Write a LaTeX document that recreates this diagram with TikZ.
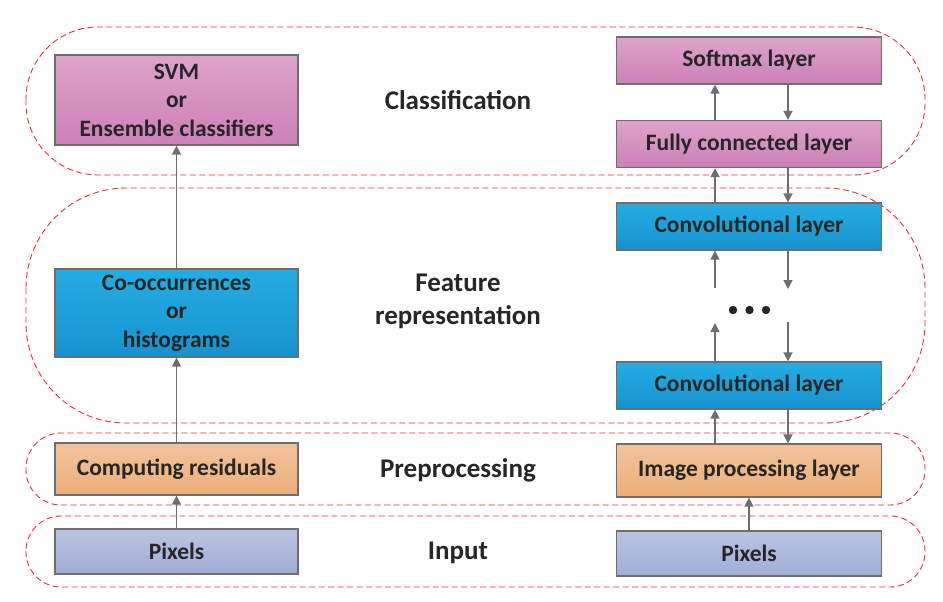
\documentclass[tikz,border=0pt]{standalone}
\usepackage{fontspec}
\setmainfont{Carlito}
\usetikzlibrary{arrows.meta}
\definecolor{txt}{HTML}{262626}
\definecolor{edge}{HTML}{6E6E6E}
\definecolor{regred}{HTML}{E62D33}
\definecolor{pinkT}{HTML}{DEA3CB}
\definecolor{pinkB}{HTML}{CC80B5}
\definecolor{blueT}{HTML}{25ADE3}
\definecolor{blueB}{HTML}{1692CE}
\definecolor{orT}{HTML}{F3C39D}
\definecolor{orB}{HTML}{ECAE78}
\definecolor{lavT}{HTML}{BAC5E3}
\definecolor{lavB}{HTML}{A0ADD5}
\tikzset{
  box/.style={draw=edge, line width=1.2pt, text=txt, font=\fontsize{23.5}{28.5}\selectfont\bfseries, align=center, inner sep=0pt},
  lbox/.style={box, minimum width=243pt},
  rbox/.style={box, minimum width=265pt},
  pinkbox/.style={top color=pinkT, bottom color=pinkB},
  bluebox/.style={top color=blueT, bottom color=blueB},
  orbox/.style={top color=orT, bottom color=orB},
  lavbox/.style={top color=lavT, bottom color=lavB},
  region/.style={draw=regred, line width=0.9pt, dash pattern=on 6pt off 3.5pt},
  arr/.style={draw=edge, line width=1.4pt, -{Triangle[width=9pt,length=9pt]}},
  lab/.style={text=txt, font=\fontsize{27}{33}\selectfont\bfseries, align=center}
}
\begin{document}
\begin{tikzpicture}[x=1pt,y=-1pt]
\useasboundingbox (0,0) rectangle (943,602);
% regions
\draw[region, rounded corners=72] (26,27) rectangle (925,175);
\draw[region, rounded corners=100] (26,188) rectangle (925,423);
\draw[region, rounded corners=35] (26,433) rectangle (925,505);
\draw[region, rounded corners=35] (26,516) rectangle (925,587);
% left column
\node[lbox, pinkbox, minimum height=90pt] (svm) at (176.5,100) {SVM\\or\\Ensemble classifiers};
\node[lbox, bluebox, minimum height=88pt] (cooc) at (176.5,313) {Co-occurrences\\or\\histograms};
\node[lbox, orbox, minimum height=52pt] (cr) at (176.5,469) {Computing residuals};
\node[lbox, lavbox, minimum height=45pt] (pl) at (176.5,551.5) {Pixels};
% right column
\node[rbox, pinkbox, minimum height=47pt] (soft) at (749,60.5) {Softmax layer};
\node[rbox, pinkbox, minimum height=47pt] (fc) at (749,144) {Fully connected layer};
\node[rbox, bluebox, minimum height=47pt] (convt) at (749,226.5) {Convolutional layer};
\node[rbox, bluebox, minimum height=47pt] (convb) at (749,385.5) {Convolutional layer};
\node[rbox, orbox, minimum height=53pt] (ip) at (749,470.5) {Image processing layer};
\node[rbox, lavbox, minimum height=45pt] (pr) at (749,553.5) {Pixels};
% labels
\node[lab] (lcls) at (458,100) {Classification};
\node[lab] (lfeat) at (458,301.5) {Feature\\representation};
\node[lab] (lpre) at (458,470) {Preprocessing};
\node[lab] (lin) at (458,553) {Input};
% dots
\fill[txt] (733,310) circle (4.2pt) (749.5,310) circle (4.2pt) (766,310) circle (4.2pt);
% helper coordinates
\coordinate (ux) at (715,0);
\coordinate (dx) at (788,0);
\coordinate (upA) at (715,288);
\coordinate (upB) at (715,323);
\coordinate (dnA) at (788,252);
\coordinate (dnB) at (788,322);
% left arrows
\draw[arr] (pl.north) -- (cr.south);
\draw[arr] (cr.north) -- (cooc.south);
\draw[arr] (cooc.north) -- (svm.south);
% right arrows
\draw[arr] (pr.north) -- (ip.south);
\draw[arr] (ip.north -| ux) -- (convb.south -| ux);
\draw[arr] (convb.south -| dx) -- (ip.north -| dx);
\draw[arr] (convb.north -| ux) -- (upB);
\draw[arr] (dnB) -- (convb.north -| dx);
\draw[arr] (upA) -- (convt.south -| ux);
\draw[arr] (convt.south -| dx) -- (dnA |- 0,289);
\draw[arr] (convt.north -| ux) -- (fc.south -| ux);
\draw[arr] (fc.south -| dx) -- (convt.north -| dx);
\draw[arr] (fc.north -| ux) -- (soft.south -| ux);
\draw[arr] (soft.south -| dx) -- (fc.north -| dx);
\end{tikzpicture}
\end{document}
